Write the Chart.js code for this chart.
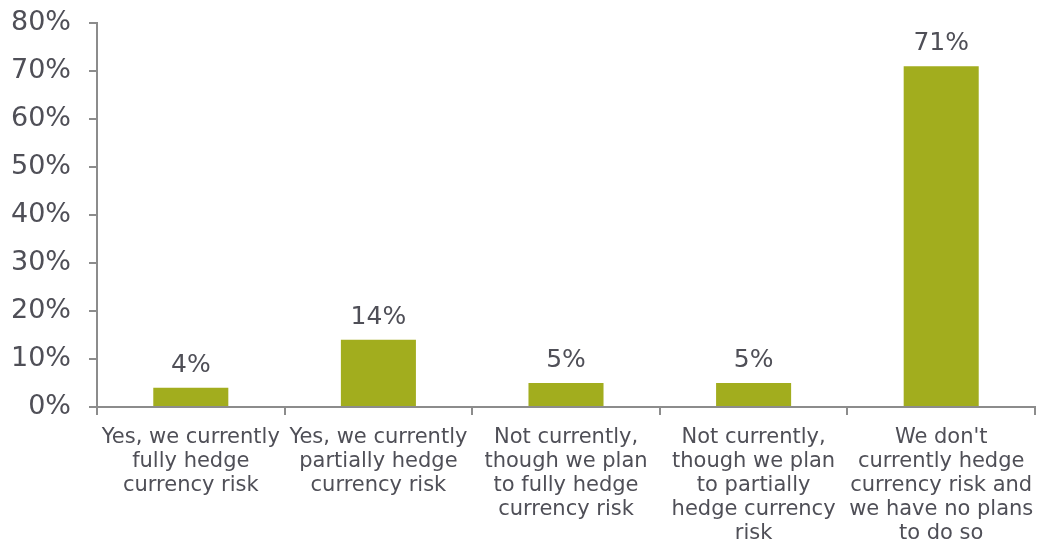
<!DOCTYPE html>
<html>
<head>
<meta charset="utf-8">
<script src="https://cdn.jsdelivr.net/npm/chart.js@4"></script>
<style>
  html, body { margin: 0; padding: 0; background: #fff; }
  #wrap { width: 1038px; height: 547px; position: relative; }
</style>
</head>
<body>
<div id="wrap"><canvas id="grafica"></canvas></div>
<script>
const categorias = [
  ["Yes, we currently", "fully hedge", "currency risk"],
  ["Yes, we currently", "partially hedge", "currency risk"],
  ["Not currently,", "though we plan", "to fully hedge", "currency risk"],
  ["Not currently,", "though we plan", "to partially", "hedge currency", "risk"],
  ["We don't", "currently hedge", "currency risk and", "we have no plans", "to do so"]
];
const valores = [4, 14, 5, 5, 71];
const ticksY = [0, 10, 20, 30, 40, 50, 60, 70, 80];

const colorBarra = "#a2ad1e";
const colorTexto = "#4f4f57";
const colorEje = "#8c8c8c";
const fuente = "'DejaVu Sans', Verdana, sans-serif";

// etiquetas de valor encima de cada barra
const etiquetasValor = {
  id: 'etiquetasValor',
  afterDatasetsDraw(chart) {
    const ctx = chart.ctx;
    const meta = chart.getDatasetMeta(0);
    ctx.save();
    ctx.font = "25px " + fuente;
    ctx.fillStyle = colorTexto;
    ctx.textAlign = 'center';
    ctx.textBaseline = 'alphabetic';
    meta.data.forEach((barra, i) => {
      ctx.fillText(valores[i] + '%', barra.x, barra.y - 16);
    });
    ctx.restore();
  }
};

// sin relleno extra de las etiquetas en los bordes
const sinRelleno = (scale) => {
  scale.paddingTop = 0;
  scale.paddingBottom = 0;
  scale.paddingLeft = 0;
  scale.paddingRight = 0;
};

new Chart(document.getElementById('grafica').getContext('2d'), {
  type: 'bar',
  data: {
    labels: categorias,
    datasets: [{
      data: valores,
      backgroundColor: colorBarra,
      borderWidth: 0,
      barPercentage: 0.4,
      categoryPercentage: 1
    }]
  },
  options: {
    responsive: true,
    maintainAspectRatio: false,
    animation: false,
    layout: { padding: { top: 23, right: 3, bottom: 0, left: 0 } },
    plugins: {
      legend: { display: false },
      tooltip: { enabled: false }
    },
    scales: {
      x: {
        grid: { display: true, drawOnChartArea: false, color: colorEje, lineWidth: 2, tickLength: 8, offset: true },
        border: { color: colorEje, width: 2 },
        ticks: {
          color: colorTexto,
          font: { family: fuente, size: 21, lineHeight: 1.143 },
          padding: 11,
          autoSkip: false,
          maxRotation: 0,
          minRotation: 0
        },
        afterFit(scale) { scale.height = 140; sinRelleno(scale); }
      },
      y: {
        min: 0,
        max: 80,
        afterBuildTicks(scale) { scale.ticks = ticksY.map(v => ({ value: v })); },
        grid: { display: true, drawOnChartArea: false, color: colorEje, lineWidth: 2, tickLength: 8 },
        border: { color: colorEje, width: 2 },
        ticks: {
          color: colorTexto,
          font: { family: fuente, size: 27 },
          padding: 18,
          callback: v => v + '%'
        },
        afterFit(scale) { scale.width = 97; sinRelleno(scale); }
      }
    }
  },
  plugins: [etiquetasValor]
});
</script>
</body>
</html>
